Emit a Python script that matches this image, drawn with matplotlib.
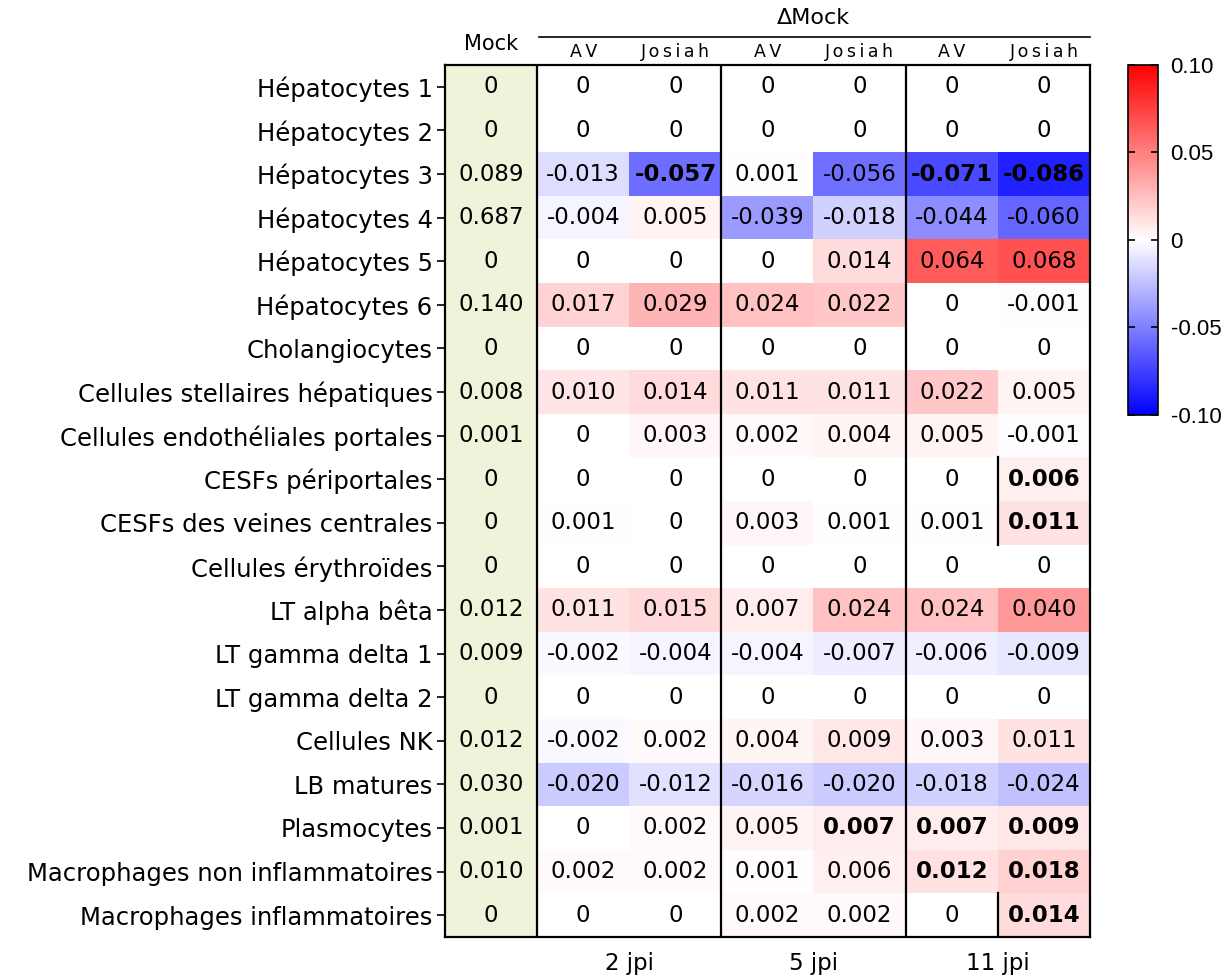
import matplotlib.pyplot as plt
import numpy as np
from matplotlib import colors

# row labels (top to bottom)
cell_types = ["Hépatocytes 1", "Hépatocytes 2", "Hépatocytes 3", "Hépatocytes 4",
              "Hépatocytes 5", "Hépatocytes 6", "Cholangiocytes",
              "Cellules stellaires hépatiques", "Cellules endothéliales portales",
              "CESFs périportales", "CESFs des veines centrales",
              "Cellules érythroïdes", "LT alpha bêta", "LT gamma delta 1",
              "LT gamma delta 2", "Cellules NK", "LB matures", "Plasmocytes",
              "Macrophages non inflammatoires", "Macrophages inflammatoires"]

mock = [0, 0, 0.089, 0.687, 0, 0.140, 0, 0.008, 0.001, 0, 0, 0, 0.012, 0.009,
        0, 0.012, 0.030, 0.001, 0.010, 0]

conditions = ["AV", "Josiah", "AV", "Josiah", "AV", "Josiah"]
timepoints = ["2 jpi", "5 jpi", "11 jpi"]

# delta vs mock, columns: 2jpi AV, 2jpi Josiah, 5jpi AV, 5jpi Josiah, 11jpi AV, 11jpi Josiah
delta = np.array([
    [0, 0, 0, 0, 0, 0],
    [0, 0, 0, 0, 0, 0],
    [-0.013, -0.057, 0.001, -0.056, -0.071, -0.086],
    [-0.004, 0.005, -0.039, -0.018, -0.044, -0.060],
    [0, 0, 0, 0.014, 0.064, 0.068],
    [0.017, 0.029, 0.024, 0.022, 0, -0.001],
    [0, 0, 0, 0, 0, 0],
    [0.010, 0.014, 0.011, 0.011, 0.022, 0.005],
    [0, 0.003, 0.002, 0.004, 0.005, -0.001],
    [0, 0, 0, 0, 0, 0.006],
    [0.001, 0, 0.003, 0.001, 0.001, 0.011],
    [0, 0, 0, 0, 0, 0],
    [0.011, 0.015, 0.007, 0.024, 0.024, 0.040],
    [-0.002, -0.004, -0.004, -0.007, -0.006, -0.009],
    [0, 0, 0, 0, 0, 0],
    [-0.002, 0.002, 0.004, 0.009, 0.003, 0.011],
    [-0.020, -0.012, -0.016, -0.020, -0.018, -0.024],
    [0, 0.002, 0.005, 0.007, 0.007, 0.009],
    [0.002, 0.002, 0.001, 0.006, 0.012, 0.018],
    [0, 0, 0.002, 0.002, 0, 0.014],
])

# (row, delta column) shown in bold
significant = [(2, 1), (2, 4), (2, 5), (9, 5), (10, 5), (17, 3), (17, 4),
               (17, 5), (18, 4), (18, 5), (19, 5)]


def fmt(v):
    return "0" if v == 0 else "{:.3f}".format(v)


def spaced(s):
    # letter-spaced header text
    return "\u2009".join(s)


n_rows = len(cell_types)
fig = plt.figure(figsize=(12.3, 9.75), dpi=100)
ax = fig.add_axes([0.3618, 0.039, 0.5244, 0.8943])

cmap = colors.LinearSegmentedColormap.from_list('bwr_odd', ['blue', 'white', 'red'], N=257)
norm = colors.Normalize(vmin=-0.1, vmax=0.1)
im = ax.imshow(delta, cmap=cmap, norm=norm, aspect='auto',
               extent=(0.5, 6.5, n_rows - 0.5, -0.5), interpolation='nearest')
ax.axvspan(-0.5, 0.5, color='#eef3d9', zorder=0)
ax.set_xlim(-0.5, 6.5)
ax.set_ylim(n_rows - 0.5, -0.5)

for i in range(n_rows):
    ax.text(0, i, fmt(mock[i]), ha='center', va='center', fontsize=16.5)
    for j in range(delta.shape[1]):
        w = 'bold' if (i, j) in significant else 'normal'
        ax.text(j + 1, i, fmt(delta[i, j]), ha='center', va='center',
                fontsize=16.5, fontweight=w)

# separators
for x in [0.5, 2.5, 4.5]:
    ax.axvline(x, color='black', lw=1.6)
ax.plot([5.5, 5.5], [8.5, 10.5], color='black', lw=1.6)
ax.plot([5.5, 5.5], [18.5, 19.5], color='black', lw=1.6)

for sp in ax.spines.values():
    sp.set_linewidth(1.6)

ax.set_yticks(range(n_rows))
ax.set_yticklabels(cell_types, fontsize=17.5)
ax.tick_params(axis='y', length=6, width=1.2, pad=3)
ax.set_xticks([])

# header
ax.text(0, -0.98, "Mock", ha='center', va='center', fontsize=15)
for j, c in enumerate(conditions):
    ax.text(j + 1, -0.8, spaced(c), ha='center', va='center', fontsize=12.5)
ax.text(3.5, -1.58, "ΔMock", ha='center', va='center', fontsize=16)
ax.plot([0.52, 6.5], [-1.15, -1.15], color='black', lw=1.2, clip_on=False)
for k, t in enumerate(timepoints):
    ax.text(1.5 + 2 * k, n_rows - 0.5 + 0.6, t, ha='center', va='center',
            fontsize=16.5)

# colorbar
cax = fig.add_axes([0.917, 0.5744, 0.0245, 0.359])
cb = fig.colorbar(im, cax=cax, ticks=[-0.1, -0.05, 0, 0.05, 0.1])
cb.ax.set_yticklabels(["-0.10", "-0.05", "0", "0.05", "0.10"],
                      family='Liberation Sans', fontsize=16)
cb.ax.tick_params(direction='in', left=True, right=True, length=5, width=1.2, pad=9)
cb.outline.set_linewidth(1.2)

plt.savefig("out.png", dpi=100)
